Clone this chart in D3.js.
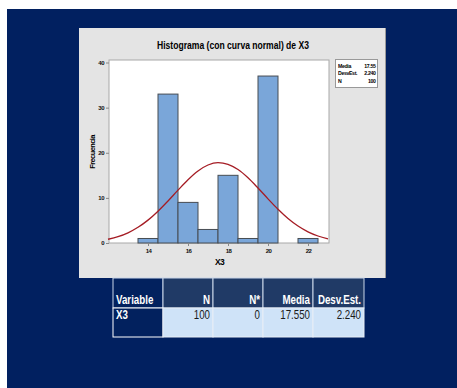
<!DOCTYPE html>
<html>
<head>
<meta charset="utf-8">
<script src="https://cdn.jsdelivr.net/npm/d3@7"></script>
<style>
  body { margin: 0; background: #fff; }
  svg { display: block; }
</style>
</head>
<body>
<script>
// histogram bins (centres) and counts
const binCentres = [14, 15, 16, 17, 18, 19, 20, 21, 22];
const binCounts  = [1, 33, 9, 3, 15, 1, 37, 0, 1];

// fitted normal curve
const curveX = [12, 12.5, 13, 13.5, 14, 14.5, 15, 15.5, 16, 16.5, 17, 17.5, 18, 18.5, 19, 19.5, 20, 20.5, 21, 21.5, 22, 22.5, 23];
const curveY = [0.83, 1.4, 2.26, 3.48, 5.07, 7.05, 9.32, 11.71, 14.02, 15.96, 17.28, 17.81, 17.45, 16.28, 14.45, 12.19, 9.79, 7.48, 5.44, 3.76, 2.48, 1.55, 0.92];

const xTicks = [14, 16, 18, 20, 22];
const yTicks = [0, 10, 20, 30, 40];

const legendLabels = ["Media", "DesvEst.", "N"];
const legendValues = ["17.55", "2.240", "100"];

const tableHeader = ["Variable", "N", "N*", "Media", "Desv.Est."];
const tableRow    = ["X3", "100", "0", "17.550", "2.240"];

const w = 457, h = 388;
const navy = "#012060";
const font = "'Liberation Sans', Arial, sans-serif";

const svg = d3.select("body").append("svg")
  .attr("width", w)
  .attr("height", h);

svg.append("rect").attr("x", 7).attr("y", 9).attr("width", w - 7).attr("height", h - 9).attr("fill", navy);

// grey panel
svg.append("rect").attr("x", 79).attr("y", 28).attr("width", 307).attr("height", 250).attr("fill", "#e4e4e4");
svg.append("line").attr("x1", 385.5).attr("x2", 385.5).attr("y1", 28).attr("y2", 278).attr("stroke", "#9a9a9a");

const plot = { left: 109, right: 329, top: 60, bottom: 243 };

const x = d3.scaleLinear().domain([12.05, 23.05]).range([plot.left, plot.right]);
const y = d3.scaleLinear().domain([0, 40]).range([plot.bottom, 62.5]);

svg.append("rect")
  .attr("x", plot.left).attr("y", plot.top)
  .attr("width", plot.right - plot.left).attr("height", plot.bottom - plot.top)
  .attr("fill", "#fff").attr("stroke", "#a8a8a8").attr("stroke-width", 1);

// bars
svg.append("g").selectAll("rect")
  .data(binCentres.map((c, i) => ({ c, n: binCounts[i] })).filter(d => d.n > 0))
  .enter().append("rect")
  .attr("x", d => x(d.c - 0.5))
  .attr("y", d => y(d.n))
  .attr("width", d => x(d.c + 0.5) - x(d.c - 0.5))
  .attr("height", d => y(0) - y(d.n))
  .attr("fill", "#7aa6d9")
  .attr("stroke", "#474c52")
  .attr("stroke-width", 1);

// normal curve
const line = d3.line()
  .x((d, i) => x(curveX[i]))
  .y(d => y(d))
  .curve(d3.curveMonotoneX);

svg.append("path")
  .datum(curveY)
  .attr("d", line)
  .attr("fill", "none")
  .attr("stroke", "#a51c24")
  .attr("stroke-width", 1.3);

// axes
const xAxis = svg.append("g")
  .attr("transform", "translate(0," + plot.bottom + ")")
  .call(d3.axisBottom(x).tickValues(xTicks).tickSize(3).tickPadding(3));
const yAxis = svg.append("g")
  .attr("transform", "translate(" + plot.left + ",0)")
  .call(d3.axisLeft(y).tickValues(yTicks).tickSize(3).tickPadding(2));

[xAxis, yAxis].forEach(a => {
  a.select(".domain").remove();
  a.selectAll("line").attr("stroke", "#888");
  a.selectAll("text")
    .attr("font-family", font)
    .attr("font-size", 6)
    .attr("font-weight", "bold")
    .attr("letter-spacing", -0.5)
    .attr("fill", "#111");
});

// titles
svg.append("text")
  .attr("x", 233).attr("y", 49)
  .attr("text-anchor", "middle")
  .attr("font-family", font)
  .attr("font-size", 11)
  .attr("font-weight", "bold")
  .attr("textLength", 152)
  .attr("lengthAdjust", "spacingAndGlyphs")
  .text("Histograma (con curva normal) de X3");

svg.append("text")
  .attr("x", 219.5).attr("y", 265)
  .attr("text-anchor", "middle")
  .attr("font-family", font)
  .attr("font-size", 8.5)
  .attr("font-weight", "bold")
  .attr("letter-spacing", -0.6)
  .text("X3");

svg.append("text")
  .attr("transform", "translate(95,152) rotate(-90)")
  .attr("text-anchor", "middle")
  .attr("font-family", font)
  .attr("font-size", 7.5)
  .attr("font-weight", "bold")
  .attr("letter-spacing", -0.6)
  .text("Frecuencia");

// stats box
const legend = svg.append("g");
legend.append("rect")
  .attr("x", 335.5).attr("y", 59.5).attr("width", 42).attr("height", 28)
  .attr("fill", "#fff").attr("stroke", "#999");
legendLabels.forEach((l, i) => {
  legend.append("text")
    .attr("x", 338).attr("y", 67.5 + i * 7.5)
    .attr("font-family", font).attr("font-size", 5.2).attr("font-weight", "bold")
    .attr("letter-spacing", -0.35)
    .text(l);
  legend.append("text")
    .attr("x", 375.5).attr("y", 67.5 + i * 7.5)
    .attr("text-anchor", "end")
    .attr("font-family", font).attr("font-size", 5.2).attr("font-weight", "bold")
    .attr("letter-spacing", -0.35)
    .text(legendValues[i]);
});

// summary table
const colEdges = [113, 163, 213, 263, 313, 364];
const rowEdges = [278, 308, 337];
const table = svg.append("g");
const sx = 0.78;

function cellText(t, i, yy, bold, color) {
  const left = i === 0;
  const tx = left ? colEdges[i] + 3 : colEdges[i + 1] - 3;
  table.append("text")
    .attr("transform", "translate(" + tx + "," + yy + ") scale(" + sx + ",1)")
    .attr("text-anchor", left ? "start" : "end")
    .attr("font-family", font).attr("font-size", 12.5)
    .attr("font-weight", bold ? "bold" : "normal")
    .attr("fill", color)
    .text(t);
}

tableHeader.forEach((t, i) => {
  table.append("rect")
    .attr("x", colEdges[i]).attr("y", rowEdges[0])
    .attr("width", colEdges[i + 1] - colEdges[i]).attr("height", rowEdges[1] - rowEdges[0])
    .attr("fill", i === 0 ? "#02215e" : "#203a66")
    .attr("stroke", "#c9d6e8").attr("stroke-width", 1);
});
tableRow.forEach((t, i) => {
  table.append("rect")
    .attr("x", colEdges[i]).attr("y", rowEdges[1])
    .attr("width", colEdges[i + 1] - colEdges[i]).attr("height", rowEdges[2] - rowEdges[1])
    .attr("fill", i === 0 ? "#02215e" : "#cfe3f8")
    .attr("stroke", i === 0 ? "#ffffff" : "#e8eef6").attr("stroke-width", 1);
});
tableHeader.forEach((t, i) => cellText(t, i, 304, true, "#fff"));
tableRow.forEach((t, i) => cellText(t, i, 319, i === 0, i === 0 ? "#fff" : "#1a1a1a"));
</script>
</body>
</html>
